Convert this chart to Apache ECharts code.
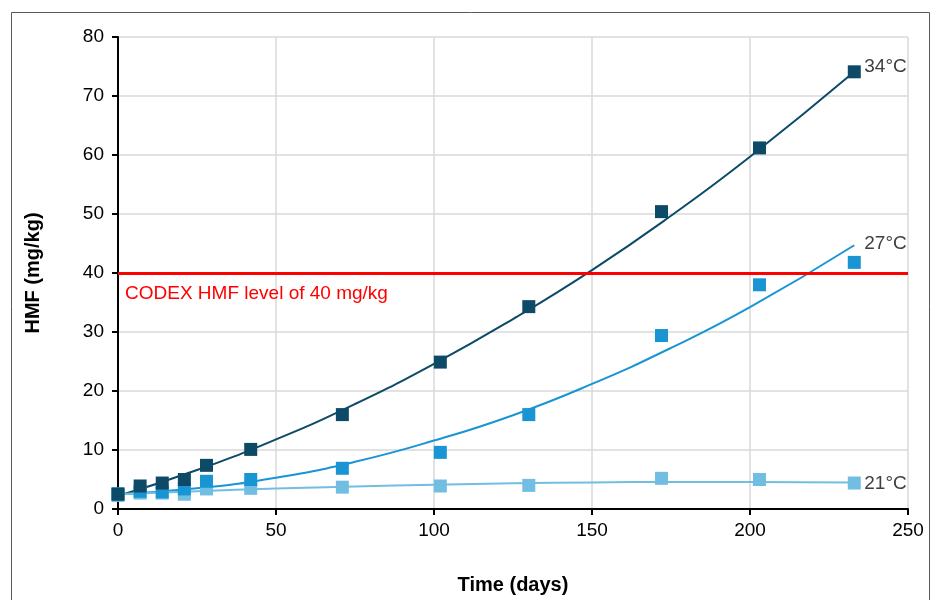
<!DOCTYPE html>
<html>
<head>
<meta charset="utf-8">
<script src="https://cdn.jsdelivr.net/npm/echarts@6/dist/echarts.min.js"></script>
<style>html,body{margin:0;padding:0;background:#fff;}#c{width:936px;height:600px;}</style>
</head>
<body>
<div id="c"></div>
<script>
// Measured points (days, HMF mg/kg)
const days = [0, 7, 14, 21, 28, 42, 71, 102, 130, 172, 203, 233];
const hmf34 = [2.5, 3.9, 4.4, 5.0, 7.4, 10.1, 16.0, 24.9, 34.3, 50.4, 61.2, 74.1];
const hmf27 = [2.6, 3.0, 2.9, 3.4, 4.7, 5.0, 6.9, 9.6, 16.0, 29.4, 38.0, 41.8];
const hmf21 = [2.3, 2.7, 2.7, 2.5, 3.4, 3.5, 3.7, 3.9, 4.0, 5.2, 5.0, 4.4];
// Trend-line points
const trendDays = [0, 25, 50, 75, 100, 125, 150, 175, 200, 233];
const trend34 = [2.2, 6.6, 11.8, 17.8, 24.6, 32.2, 40.5, 49.7, 59.7, 74.1];
const trend27 = [2.5, 3.5, 5.3, 8.0, 11.6, 15.9, 21.2, 27.3, 34.2, 44.7];
const trend21 = [2.5, 3.0, 3.46, 3.83, 4.12, 4.35, 4.5, 4.58, 4.59, 4.5];
const seriesNames = ['34°C', '27°C', '21°C'];
const codexLevel = 40;
const codexLabel = 'CODEX HMF level of 40 mg/kg';
const xTitle = 'Time (days)';
const yTitle = 'HMF (mg/kg)';

const colors = ['#0c4a68', '#1a95d3', '#72bee3'];
const pts = [hmf34, hmf27, hmf21];
const trends = [trend34, trend27, trend21];
const font = '"Liberation Sans", Arial, sans-serif';
const labelOffsets = [[0, -5], [0, -2], [0, 1]];

const series = [];
pts.forEach((arr, i) => {
  series.push({
    type: 'line',
    name: seriesNames[i] + ' trend',
    data: trendDays.map((d, k) => [d, trends[i][k]]),
    smooth: true,
    showSymbol: false,
    symbol: 'none',
    lineStyle: { color: colors[i], width: 2 },
    z: 2,
    silent: true,
    animation: false,
    endLabel: {
      show: true,
      formatter: seriesNames[i],
      color: '#404040',
      fontFamily: font,
      fontSize: 19,
      distance: 10,
      offset: labelOffsets[i]
    }
  });
  series.push({
    type: 'scatter',
    name: seriesNames[i],
    data: days.map((d, k) => [d, arr[k]]),
    symbol: 'rect',
    symbolSize: 13,
    itemStyle: { color: colors[i], opacity: 1 },
    z: 5 - i,
    animation: false
  });
});
series.push({
  type: 'line',
  data: [],
  markLine: {
    silent: true,
    symbol: 'none',
    animation: false,
    lineStyle: { color: '#ff0000', width: 3, type: 'solid' },
    label: {
      show: true,
      position: 'insideStartBottom',
      formatter: codexLabel,
      color: '#ff0000',
      fontFamily: font,
      fontSize: 19,
      distance: [7, 11]
    },
    data: [{ yAxis: codexLevel }]
  }
});

const chart = echarts.init(document.getElementById('c'));
chart.setOption({
  animation: false,
  grid: { left: 118, right: 28, top: 37, bottom: 87, containLabel: false },
  graphic: [{
    type: 'rect',
    shape: { x: 11.5, y: 12.5, width: 918, height: 620 },
    style: { fill: 'none', stroke: '#595959', lineWidth: 1 },
    silent: true
  }],
  xAxis: {
    type: 'value', min: 0, max: 250, interval: 50,
    name: xTitle, nameLocation: 'middle', nameGap: 66,
    nameTextStyle: { fontFamily: font, fontSize: 20, fontWeight: 'bold', color: '#000' },
    axisLine: { show: true, onZero: false, lineStyle: { color: '#000', width: 2 } },
    axisTick: { show: true, length: 6, lineStyle: { color: '#000', width: 2 } },
    axisLabel: { fontFamily: font, fontSize: 19, color: '#000', margin: 12 },
    splitLine: { show: true, lineStyle: { color: '#d9d9d9', width: 1.5 } }
  },
  yAxis: {
    type: 'value', min: 0, max: 80, interval: 10,
    name: yTitle, nameLocation: 'middle', nameGap: 75, nameRotate: 90,
    nameTextStyle: { fontFamily: font, fontSize: 20, fontWeight: 'bold', color: '#000' },
    axisLine: { show: true, onZero: false, lineStyle: { color: '#000', width: 2 } },
    axisTick: { show: true, length: 6, lineStyle: { color: '#000', width: 2 } },
    axisLabel: { fontFamily: font, fontSize: 19, color: '#000', margin: 14 },
    splitLine: { show: true, lineStyle: { color: '#d9d9d9', width: 1.5 } }
  },
  series: series
});
</script>
</body>
</html>
